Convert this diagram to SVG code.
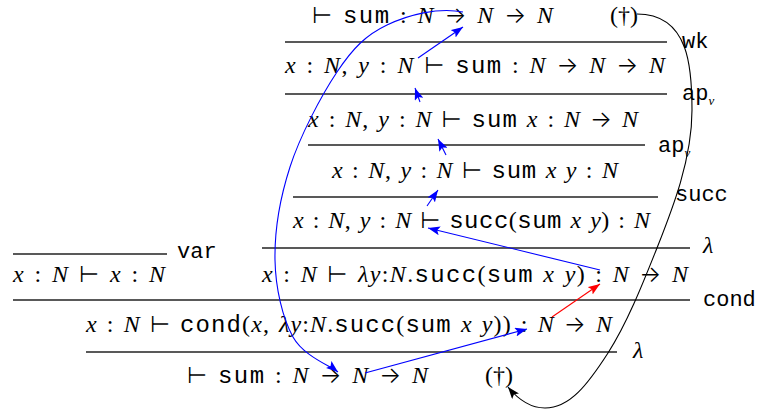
<svg xmlns="http://www.w3.org/2000/svg" width="761" height="414" viewBox="0 0 761 414">
<style>
text{font-family:"Liberation Serif","DejaVu Serif",serif;font-size:24px;fill:#000;word-spacing:2px}
.i{font-style:italic}
.t{font-family:"Liberation Mono","DejaVu Sans Mono",monospace}
.a{font-family:Inter,"DejaVu Sans",sans-serif;font-size:23px;font-weight:300}
.d{font-family:"DejaVu Sans",sans-serif;font-size:23px}
.lbl{font-family:"Liberation Mono","DejaVu Sans Mono",monospace;font-size:22px;word-spacing:0}
.sub{font-family:"Liberation Serif",serif;font-style:italic;font-size:13px}
.rule{stroke:#222;stroke-width:1.3}
.b{stroke:#00f;stroke-width:1.1;fill:none;marker-end:url(#ab)}
.r{stroke:#f00;stroke-width:1.1;fill:none;marker-end:url(#ar)}
.k{stroke:#000;stroke-width:1.1;fill:none;marker-end:url(#ak)}
</style>
<defs>
<marker id="ab" viewBox="0 0 12 9" refX="12" refY="4.5" markerWidth="12" markerHeight="9" markerUnits="userSpaceOnUse" orient="auto"><path d="M0,0 L12,4.5 L0,9 L2.5,4.5 z" fill="#00f"/></marker>
<marker id="ar" viewBox="0 0 12 9" refX="12" refY="4.5" markerWidth="12" markerHeight="9" markerUnits="userSpaceOnUse" orient="auto"><path d="M0,0 L12,4.5 L0,9 L2.5,4.5 z" fill="#f00"/></marker>
<marker id="ak" viewBox="0 0 12 9" refX="12" refY="4.5" markerWidth="12" markerHeight="9" markerUnits="userSpaceOnUse" orient="auto"><path d="M0,0 L12,4.5 L0,9 L2.5,4.5 z" fill="#000"/></marker>
</defs>

<g id="j1">
<text x="312" y="23" textLength="241"><tspan class="d">⊢</tspan> <tspan class="t">sum</tspan> : <tspan class="i">N</tspan> <tspan class="a">→</tspan> <tspan class="i">N</tspan> <tspan class="a">→</tspan> <tspan class="i">N</tspan></text>
<text x="610" y="23">(†)</text>
<line class="rule" x1="285" y1="42" x2="667" y2="42"/>
<text class="lbl" x="682" y="48">wk</text>
</g>

<g id="j2">
<text x="285" y="73" textLength="380"><tspan class="i">x</tspan> : <tspan class="i">N</tspan>, <tspan class="i">y</tspan> : <tspan class="i">N</tspan> <tspan class="d">⊢</tspan> <tspan class="t">sum</tspan> : <tspan class="i">N</tspan> <tspan class="a">→</tspan> <tspan class="i">N</tspan> <tspan class="a">→</tspan> <tspan class="i">N</tspan></text>
<line class="rule" x1="285" y1="94" x2="667" y2="94"/>
<text class="lbl" x="682" y="100">ap<tspan class="sub" dy="5">v</tspan></text>
</g>

<g id="j3">
<text x="308" y="127" textLength="330"><tspan class="i">x</tspan> : <tspan class="i">N</tspan>, <tspan class="i">y</tspan> : <tspan class="i">N</tspan> <tspan class="d">⊢</tspan> <tspan class="t">sum</tspan> <tspan class="i">x</tspan> : <tspan class="i">N</tspan> <tspan class="a">→</tspan> <tspan class="i">N</tspan></text>
<line class="rule" x1="308" y1="145" x2="645" y2="145"/>
<text class="lbl" x="658" y="152">ap<tspan class="sub" dy="5">v</tspan></text>
</g>

<g id="j4">
<text x="332" y="178" textLength="286"><tspan class="i">x</tspan> : <tspan class="i">N</tspan>, <tspan class="i">y</tspan> : <tspan class="i">N</tspan> <tspan class="d">⊢</tspan> <tspan class="t">sum</tspan> <tspan class="i">x</tspan> <tspan class="i">y</tspan> : <tspan class="i">N</tspan></text>
<line class="rule" x1="293" y1="197" x2="658" y2="197"/>
<text class="lbl" x="675" y="201">succ</text>
</g>

<g id="j5">
<text x="293" y="228" textLength="357"><tspan class="i">x</tspan> : <tspan class="i">N</tspan>, <tspan class="i">y</tspan> : <tspan class="i">N</tspan> <tspan class="d">⊢</tspan> <tspan class="t">succ</tspan>(<tspan class="t">sum</tspan> <tspan class="i">x</tspan> <tspan class="i">y</tspan>) : <tspan class="i">N</tspan></text>
<line class="rule" x1="262" y1="248" x2="690" y2="248"/>
<text x="703" y="253" class="i">λ</text>
</g>

<g id="jvar">
<line class="rule" x1="13" y1="254" x2="167" y2="254"/>
<text class="lbl" x="177" y="258">var</text>
<text x="13" y="282" textLength="152"><tspan class="i">x</tspan> : <tspan class="i">N</tspan> <tspan class="d">⊢</tspan> <tspan class="i">x</tspan> : <tspan class="i">N</tspan></text>
</g>

<g id="j6">
<text x="262" y="282" textLength="426"><tspan class="i">x</tspan> : <tspan class="i">N</tspan> <tspan class="d">⊢</tspan> <tspan class="i">λy</tspan>:<tspan class="i">N</tspan>.<tspan class="t">succ</tspan>(<tspan class="t">sum</tspan> <tspan class="i">x</tspan> <tspan class="i">y</tspan>) : <tspan class="i">N</tspan> <tspan class="a">→</tspan> <tspan class="i">N</tspan></text>
<line class="rule" x1="13" y1="300" x2="690" y2="300"/>
<text class="lbl" x="703" y="306">cond</text>
</g>

<g id="j7">
<text x="86" y="332" textLength="526"><tspan class="i">x</tspan> : <tspan class="i">N</tspan> <tspan class="d">⊢</tspan> <tspan class="t">cond</tspan>(<tspan class="i">x</tspan>, <tspan class="i">λy</tspan>:<tspan class="i">N</tspan>.<tspan class="t">succ</tspan>(<tspan class="t">sum</tspan> <tspan class="i">x</tspan> <tspan class="i">y</tspan>)) : <tspan class="i">N</tspan> <tspan class="a">→</tspan> <tspan class="i">N</tspan></text>
<line class="rule" x1="86" y1="352" x2="617" y2="352"/>
<text x="633" y="358" class="i">λ</text>
</g>

<g id="j8">
<text x="187" y="383" textLength="241"><tspan class="d">⊢</tspan> <tspan class="t">sum</tspan> : <tspan class="i">N</tspan> <tspan class="a">→</tspan> <tspan class="i">N</tspan> <tspan class="a">→</tspan> <tspan class="i">N</tspan></text>
<text x="485" y="383">(†)</text>
</g>

<g id="connectors">
<path class="b" d="M418,58 L463,27"/>
<path class="b" d="M420,102 L415,88"/>
<path class="b" d="M446,155 L438,139"/>
<path class="b" d="M427,206 L438,190"/>
<path class="b" d="M600,270 L428,228"/>
<path class="r" d="M552,317 L600,284"/>
<path class="b" d="M365,373 L527,329"/>
<path class="b" d="M463,12 C438,7 408,15 387,25 C366,35 353,48 337,72 C321,96 300,136 290,167 C280,198 274.5,232 275,260 C275.5,288 282.5,318 293,337 C303.5,356 330.5,366 338,372"/>
<path class="k" d="M637,14 C690,14 692,70 692,110 C692,160 672,210 657,248 C645,278 628,322 608,353 C588,384 570,408 545,408 C530,408 517,398 508,387"/>
</g>
</svg>
